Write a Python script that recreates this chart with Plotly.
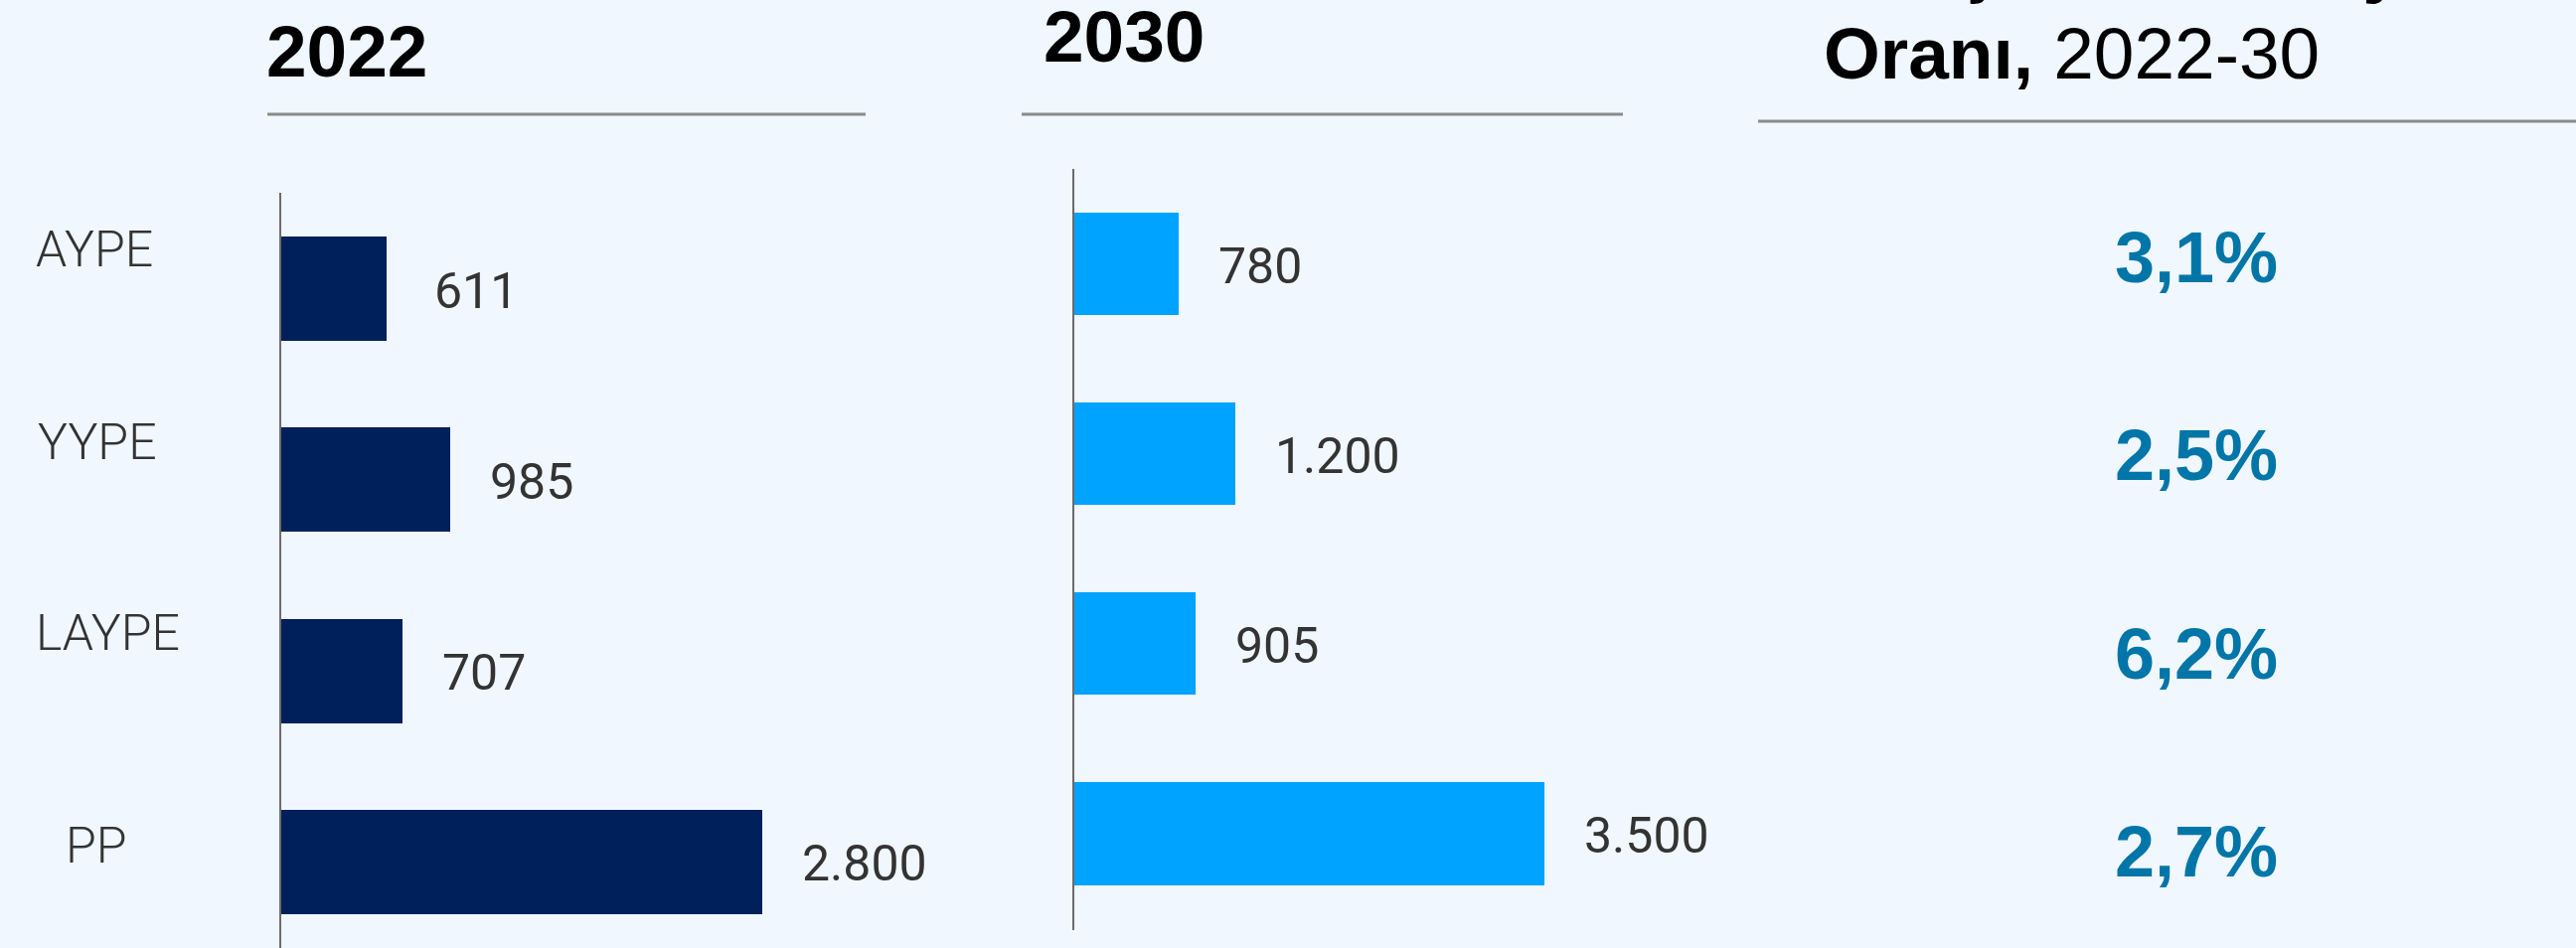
import plotly.graph_objects as go

# ---- data ----
categories = ["AYPE", "YYPE", "LAYPE", "PP"]
values_2022 = [611, 985, 707, 2800]
values_2030 = [780, 1200, 905, 3500]
cagr_labels = ["3,1%", "2,5%", "6,2%", "2,7%"]
title_2022 = "2022"
title_2030 = "2030"
title_cagr_line1 = "Bileşik Yıllık Büyüme"
title_cagr_line2 = "<b>Oranı,</b> 2022-30"

# ---- style ----
W, H = 2592, 954
BG = "#F0F7FF"
NAVY = "#00205B"
SKY = "#00A3FF"
TEAL = "#0076A8"
AXIS = "#6b6b6b"
RULE = "#8a8a8a"
TXT = "#333333"
TITLE_FONT = "Liberation Sans, Arial, sans-serif"
LABEL_FONT = "Roboto, sans-serif"


def px(x):
    return x / W


def py(y):
    return 1 - y / H


def fmt(v):
    return f"{v:,}".replace(",", ".")


fig = go.Figure()

fig.add_trace(go.Bar(
    x=values_2022, y=categories, orientation="h",
    marker=dict(color=NAVY, line=dict(width=0)), width=0.546,
    xaxis="x", yaxis="y", hoverinfo="skip", showlegend=False,
))
fig.add_trace(go.Bar(
    x=values_2030, y=categories, orientation="h",
    marker=dict(color=SKY, line=dict(width=0)), width=0.54,
    xaxis="x2", yaxis="y2", hoverinfo="skip", showlegend=False,
))
fig.add_trace(go.Scatter(
    x=[0] * len(categories), y=categories, mode="text", text=cagr_labels,
    textposition="middle center",
    textfont=dict(family=TITLE_FONT, size=72, color=TEAL, weight="bold"),
    xaxis="x3", yaxis="y3", hoverinfo="skip", showlegend=False,
))

annotations = []
# value labels
label_gap = [46, 38, 38, 38]
for cat, v, g in zip(categories, values_2022, label_gap):
    annotations.append(dict(
        x=v, y=cat, xref="x", yref="y", text=fmt(v), showarrow=False,
        xanchor="left", yanchor="middle", xshift=g, yshift=-2,
        font=dict(family=LABEL_FONT, size=50, color=TXT),
    ))
for cat, v in zip(categories, values_2030):
    annotations.append(dict(
        x=v, y=cat, xref="x2", yref="y2", text=fmt(v), showarrow=False,
        xanchor="left", yanchor="middle", xshift=38, yshift=-2,
        font=dict(family=LABEL_FONT, size=50, color=TXT),
    ))
# category labels (sit above bar centres)
label_left = [34, 36, 34, 64]
label_shift = [40, 38, 38, 16]
for cat, lx, ys in zip(categories, label_left, label_shift):
    annotations.append(dict(
        x=px(lx), y=cat, xref="paper", yref="y", text=cat, showarrow=False,
        xanchor="left", yanchor="middle", yshift=ys,
        font=dict(family=LABEL_FONT, size=50, color=TXT, weight=300),
    ))
# titles
annotations.append(dict(
    x=px(266), y=py(52), xref="paper", yref="paper", text=title_2022,
    showarrow=False, xanchor="left", yanchor="middle",
    font=dict(family=TITLE_FONT, size=73, color="#000000", weight="bold"),
))
annotations.append(dict(
    x=px(1048), y=py(37), xref="paper", yref="paper", text=title_2030,
    showarrow=False, xanchor="left", yanchor="middle",
    font=dict(family=TITLE_FONT, size=73, color="#000000", weight="bold"),
))
annotations.append(dict(
    x=px(1833), y=py(-37), xref="paper", yref="paper", text=title_cagr_line1,
    showarrow=False, xanchor="left", yanchor="middle",
    font=dict(family=TITLE_FONT, size=73, color="#000000", weight="bold"),
))
annotations.append(dict(
    x=px(1833), y=py(54), xref="paper", yref="paper", text=title_cagr_line2,
    showarrow=False, xanchor="left", yanchor="middle",
    font=dict(family=TITLE_FONT, size=73, color="#000000"),
))

shapes = [
    dict(type="line", xref="paper", yref="paper", x0=px(269), x1=px(871),
         y0=py(115), y1=py(115), line=dict(color=RULE, width=3)),
    dict(type="line", xref="paper", yref="paper", x0=px(1028), x1=px(1633),
         y0=py(115), y1=py(115), line=dict(color=RULE, width=3)),
    dict(type="line", xref="paper", yref="paper", x0=px(1769), x1=px(2592),
         y0=py(122), y1=py(122), line=dict(color=RULE, width=3)),
]

hidden_x = dict(visible=False, showgrid=False, zeroline=False, fixedrange=True)
cat_y = dict(type="category", categoryarray=categories, showticklabels=False,
             ticks="", showgrid=False, zeroline=False, fixedrange=True)

fig.update_layout(
    width=W, height=H, autosize=False,
    margin=dict(l=0, r=0, t=0, b=0, pad=0),
    paper_bgcolor=BG, plot_bgcolor=BG,
    bargap=0,
    xaxis=dict(domain=[px(283), px(871)], range=[0, 588 / 0.1727], anchor="y", **hidden_x),
    yaxis=dict(domain=[0, py(194)], range=[3.45, -0.502], anchor="x",
               showline=True, linecolor=AXIS, linewidth=2, **cat_y),
    xaxis2=dict(domain=[px(1081), px(1633)], range=[0, 552 / 0.1352], anchor="y2", **hidden_x),
    yaxis2=dict(domain=[py(936), py(170)], range=[3.508, -0.5], anchor="x2",
                showline=True, linecolor=AXIS, linewidth=2, **cat_y),
    xaxis3=dict(domain=[px(1900), px(2520)], range=[-1, 1], anchor="y3", **hidden_x),
    yaxis3=dict(domain=[0, py(166)], range=[3.45, -0.5], anchor="x3", visible=False,
                type="category", categoryarray=categories, fixedrange=True),
    annotations=annotations,
    shapes=shapes,
)

fig.write_html(
    "out.html",
    config=dict(displayModeBar=False),
    post_script="document.body.style.margin='0';document.body.style.overflow='hidden';"
                "document.body.style.background='" + BG + "';",
)
